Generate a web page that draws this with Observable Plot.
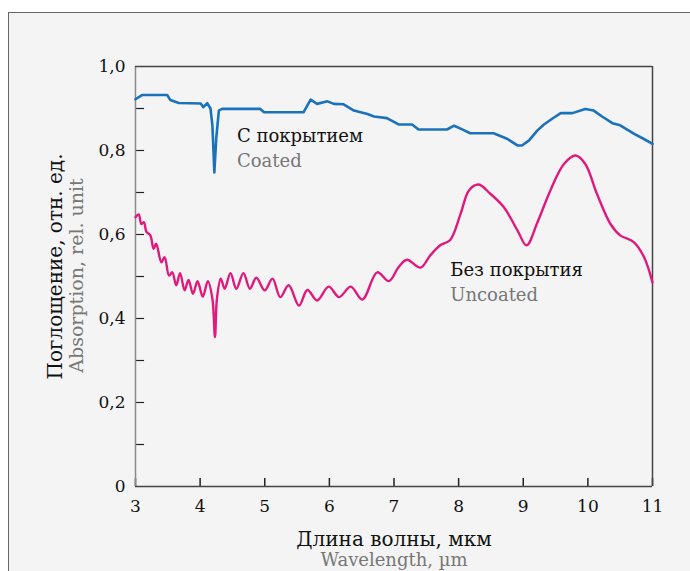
<!DOCTYPE html>
<html><head><meta charset="utf-8">
<script src="https://cdn.jsdelivr.net/npm/d3@7"></script>
<script src="https://cdn.jsdelivr.net/npm/@observablehq/plot@0.6"></script>
<style>
body{margin:0;background:#fff;width:690px;height:571px;overflow:hidden;position:relative;}
#panel{position:absolute;left:8px;top:12px;width:720px;height:600px;background:#f4f4f4;border:1.5px solid #666;}
#chart{position:absolute;left:0;top:0;}
</style></head>
<body><div id="panel"></div><div id="chart"></div>
<script>
// Coated (С покрытием)
const coatedWl = [3.00,3.10,3.49,3.54,3.67,4.01,4.05,4.11,4.16,4.19,4.22,4.25,4.29,4.34,4.93,4.99,5.60,5.71,5.81,5.97,6.07,6.22,6.38,6.59,6.69,6.89,7.07,7.28,7.38,7.82,7.93,8.03,8.18,8.54,8.75,8.91,8.98,9.09,9.22,9.32,9.47,9.58,9.76,9.96,10.09,10.22,10.38,10.50,10.71,10.86,11.00];
const coatedAbs = [0.922,0.932,0.932,0.920,0.913,0.912,0.903,0.913,0.900,0.860,0.748,0.830,0.895,0.899,0.899,0.891,0.891,0.921,0.911,0.917,0.911,0.910,0.895,0.887,0.881,0.877,0.862,0.862,0.850,0.850,0.859,0.852,0.841,0.841,0.828,0.812,0.812,0.824,0.848,0.862,0.878,0.889,0.889,0.899,0.895,0.881,0.865,0.860,0.840,0.828,0.816];
// Uncoated (Без покрытия)
const uncoatedWl = [3.00,3.05,3.09,3.13,3.17,3.23,3.28,3.32,3.40,3.45,3.52,3.57,3.63,3.69,3.76,3.82,3.89,3.96,4.04,4.12,4.19,4.23,4.26,4.32,4.38,4.47,4.56,4.67,4.77,4.87,5.00,5.12,5.24,5.37,5.53,5.66,5.81,5.99,6.15,6.33,6.51,6.74,6.92,7.07,7.20,7.41,7.56,7.72,7.87,8.03,8.16,8.31,8.49,8.70,8.91,9.05,9.22,9.42,9.63,9.81,9.96,10.14,10.35,10.50,10.71,10.87,11.00];
const uncoatedAbs = [0.641,0.648,0.625,0.629,0.606,0.598,0.566,0.578,0.534,0.546,0.502,0.510,0.479,0.508,0.467,0.492,0.459,0.489,0.452,0.489,0.447,0.356,0.447,0.495,0.471,0.508,0.471,0.508,0.471,0.497,0.467,0.495,0.451,0.479,0.431,0.468,0.443,0.476,0.451,0.476,0.445,0.510,0.489,0.522,0.540,0.521,0.550,0.575,0.587,0.649,0.705,0.719,0.697,0.665,0.610,0.574,0.629,0.705,0.768,0.788,0.768,0.697,0.625,0.598,0.582,0.546,0.486];

const xTicks = [3,4,5,6,7,8,9,10,11];
const yLabelTicks = [0,0.2,0.4,0.6,0.8,1.0];
const yMinorTicks = [0.1,0.2,0.3,0.4,0.5,0.6,0.7,0.8,0.9];

const titles = {
  yRu: "Поглощение, отн. ед.", yEn: "Absorption, rel. unit",
  xRu: "Длина волны, мкм", xEn: "Wavelength, µm",
  coatedRu: "С покрытием", coatedEn: "Coated",
  uncoatedRu: "Без покрытия", uncoatedEn: "Uncoated"
};

const coated = coatedWl.map((w,i)=>({w, a: coatedAbs[i]}));
const uncoated = uncoatedWl.map((w,i)=>({w, a: uncoatedAbs[i]}));

const BLUE = "#1b72bb", PINK = "#e2197c", GRAY = "#777777", FONT = "DejaVu Serif";
const fmt = d => d === 0 ? "0" : d.toFixed(1).replace(".", ",");

const chart = Plot.plot({
  width: 690, height: 571,
  marginLeft: 135, marginRight: 38, marginTop: 66, marginBottom: 85,
  style: {background: "transparent", fontFamily: FONT, fontSize: "17px", color: "#111"},
  x: {domain: [3, 11]},
  y: {domain: [0, 1]},
  marks: [
    Plot.axisX({ticks: xTicks, tickSize: 0, tickPadding: 13, tickFormat: d => String(d), fontSize: 17, label: null}),
    Plot.axisY({ticks: yLabelTicks, tickSize: 0, tickPadding: 10, tickFormat: fmt, fontSize: 17, label: null}),
    Plot.ruleX(xTicks, {x: d => d, y1: 0, y2: 0.019, stroke: "#222", strokeWidth: 1.5}),
    Plot.ruleY(yMinorTicks, {y: d => d, x1: 3, x2: 3.14, stroke: "#222", strokeWidth: 1.2}),
    Plot.ruleX([3], {stroke: "#8a8a8a", strokeWidth: 1.5}),
    Plot.ruleX([11], {stroke: "#444", strokeWidth: 1.5}),
    Plot.ruleY([0], {stroke: "#444", strokeWidth: 1.5}),
    Plot.ruleY([1], {stroke: "#444", strokeWidth: 1.5}),
    Plot.line(coated, {x: "w", y: "a", stroke: BLUE, strokeWidth: 2.6, curve: "linear"}),
    Plot.line(uncoated, {x: "w", y: "a", stroke: PINK, strokeWidth: 2.4, curve: "catmull-rom"}),
    Plot.text([titles.coatedRu], {x: 4.57, y: 0.833, text: d => d, textAnchor: "start", fill: "#111", fontSize: 18}),
    Plot.text([titles.coatedEn], {x: 4.57, y: 0.774, text: d => d, textAnchor: "start", fill: GRAY, fontSize: 18}),
    Plot.text([titles.uncoatedRu], {x: 7.87, y: 0.514, text: d => d, textAnchor: "start", fill: "#111", fontSize: 18}),
    Plot.text([titles.uncoatedEn], {x: 7.87, y: 0.455, text: d => d, textAnchor: "start", fill: GRAY, fontSize: 18}),
    Plot.text([titles.xRu], {frameAnchor: "bottom", dy: 53, lineAnchor: "middle", text: d => d, fill: "#111", fontSize: 20}),
    Plot.text([titles.xEn], {frameAnchor: "bottom", dy: 74, lineAnchor: "middle", text: d => d, fill: GRAY, fontSize: 18}),
    Plot.text([titles.yRu], {frameAnchor: "left", dx: -80, dy: -10, rotate: -90, textAnchor: "middle", lineAnchor: "middle", text: d => d, fill: "#111", fontSize: 20}),
    Plot.text([titles.yEn], {frameAnchor: "left", dx: -59, dy: -1, rotate: -90, textAnchor: "middle", lineAnchor: "middle", text: d => d, fill: GRAY, fontSize: 19})
  ]
});
document.getElementById("chart").appendChild(chart);
</script>
</body></html>
